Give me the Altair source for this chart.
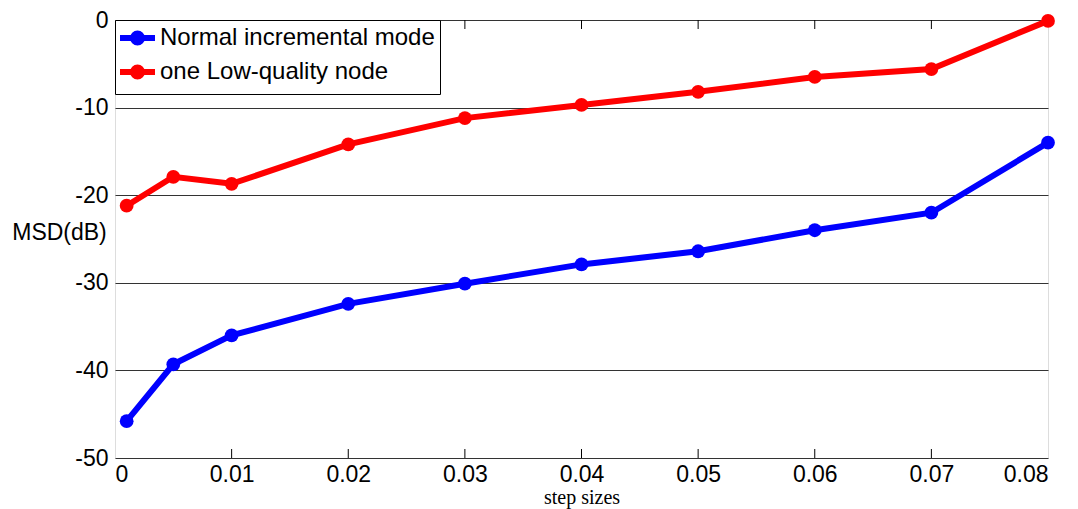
import altair as alt
import pandas as pd

step = [0.001, 0.005, 0.01, 0.02, 0.03, 0.04, 0.05, 0.06, 0.07, 0.08]
normal = [-45.8, -39.3, -36.0, -32.4, -30.1, -27.9, -26.4, -24.0, -22.0, -14.0]
lowq = [-21.2, -17.9, -18.7, -14.2, -11.2, -9.7, -8.2, -6.5, -5.6, -0.1]
series = ["Normal incremental mode", "one Low-quality node"]
colors = ["#0000ff", "#ff0000"]
x_ticks = [0, 0.01, 0.02, 0.03, 0.04, 0.05, 0.06, 0.07, 0.08]
y_ticks = [-50, -40, -30, -20, -10, 0]

rows = []
for s, vals in zip(series, [normal, lowq]):
    for x, v in zip(step, vals):
        rows.append({"step": x, "msd": v, "series": s})
df = pd.DataFrame(rows)
tick_df = pd.DataFrame({"t": x_ticks[1:-1]})

W, H = 933, 438
FONT = "Liberation Sans"

xscale = alt.Scale(domain=[0, 0.08], nice=False, zero=False)
yscale = alt.Scale(domain=[-50, 0], nice=False, zero=False)

legend_symbol = "M-1.3,0H2.2M0.9,0A0.45,0.45 0 1 1 0.0,0A0.45,0.45 0 1 1 0.9,0"

lines = alt.Chart(df).mark_line(
    strokeWidth=6,
    point=alt.OverlayMarkDef(size=190, filled=True, opacity=1),
).encode(
    x=alt.X("step:Q", scale=xscale,
            axis=alt.Axis(values=x_ticks, format="~g", title="step sizes",
                          titleFont="Liberation Serif", titleFontSize=20,
                          titleFontWeight="normal", titlePadding=1,
                          labelFontSize=23, labelFont=FONT, labelPadding=5,
                          tickSize=0, grid=False, domain=False, labelColor="black",
                          titleColor="black")),
    y=alt.Y("msd:Q", scale=yscale,
            axis=alt.Axis(values=y_ticks, title="MSD(dB)", titleAngle=0,
                          labelExpr="replace(datum.label, '\u2212', '-')",
                          titleAlign="center", titleBaseline="middle",
                          titleX=-56, titleY=212, titleFont=FONT, titleFontSize=23,
                          titleFontWeight="normal", titleColor="black",
                          labelFontSize=23, labelFont=FONT, labelPadding=7,
                          labelColor="black", tickSize=0, domain=False,
                          grid=True, gridColor="#333333", gridWidth=1, gridOpacity=1)),
    color=alt.Color("series:N",
                    scale=alt.Scale(domain=series, range=colors),
                    legend=alt.Legend(title=None, orient="none", legendX=0, legendY=0,
                                      direction="vertical",
                                      symbolType=legend_symbol, symbolSize=400,
                                      symbolStrokeWidth=6, symbolFillColor="transparent",
                                      labelFont=FONT, labelFontSize=24, labelColor="black",
                                      labelOffset=14, rowPadding=0, labelLimit=0,
                                      padding=5, strokeColor="black", fillColor="white",
                                      cornerRadius=0, symbolOpacity=1)),
)

bottom_ticks = alt.Chart(tick_df).mark_rule(color="black", strokeWidth=1).encode(
    x=alt.X("t:Q", scale=xscale), y=alt.value(H), y2=alt.value(H - 9))
top_ticks = alt.Chart(tick_df).mark_rule(color="black", strokeWidth=1).encode(
    x=alt.X("t:Q", scale=xscale), y=alt.value(0), y2=alt.value(9))

chart = alt.layer(bottom_ticks, top_ticks, lines).properties(
    width=W, height=H,
    autosize=alt.AutoSizeParams(type="none"),
    padding={"left": 115, "top": 20, "right": 30, "bottom": 51},
).configure_view(stroke="black", strokeWidth=1.5).configure(background="white")

chart.save("out.html", embed_options={"renderer": "svg", "actions": False})
